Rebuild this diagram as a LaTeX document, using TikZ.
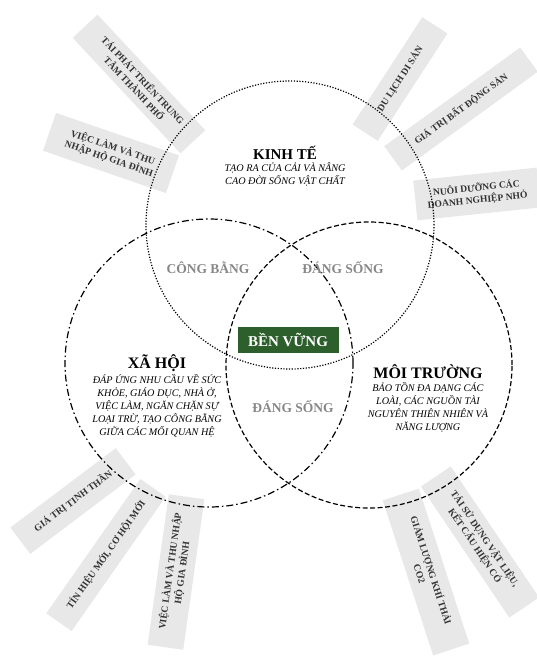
\documentclass[tikz,border=0pt]{standalone}
\usepackage{fontspec}
\setmainfont{Liberation Serif}
\usepackage{tikz}
\usetikzlibrary{positioning}
\definecolor{leaf}{RGB}{45,95,45}
\definecolor{tagfill}{RGB}{232,232,232}
\definecolor{zonegray}{RGB}{135,135,135}

\begin{document}
\begin{tikzpicture}[x=1pt, y=-1pt,
node distance = 1pt and 1pt,
     tag/.style = {fill=tagfill, text=black!80, align=center, inner sep=0pt,
                   font=\bfseries\fontsize{9.6}{12}\selectfont},
     ttl/.style = {font=\bfseries\fontsize{16}{18}\selectfont, inner sep=0pt},
    desc/.style = {font=\itshape\fontsize{10.2}{13}\selectfont, align=center, inner sep=0pt},
    zone/.style = {font=\bfseries\fontsize{13.5}{15}\selectfont, text=zonegray},
    ring/.style = {line width=1.2pt}
                    ]
\useasboundingbox (0,0) rectangle (537,657);

\coordinate (kt) at (290,225);
\coordinate (xh) at (209,363);
\coordinate (mt) at (369,365);

% the grey tags round the rings
\node (t1) [tag, rotate=-47, minimum width=158pt, minimum height=34pt] at (139,84) {TÁI PHÁT TRIỂN TRUNG\\TÂM THÀNH PHỐ};
\node (t2) [tag, rotate=-19, minimum width=130pt, minimum height=40pt] at (111,153) {VIỆC LÀM VÀ THU\\NHẬP HỘ GIA ĐÌNH};
\node (t3) [tag, rotate=57, minimum width=128pt, minimum height=30pt] at (400,79) {DU LỊCH DI SẢN};
\node (t4) [tag, rotate=36, minimum width=168pt, minimum height=30pt] at (461,109) {GIÁ TRỊ BẤT ĐỘNG SẢN};
\node (t5) [tag, rotate=6, minimum width=124pt, minimum height=40pt] at (477,194) {NUÔI DƯỠNG CÁC\\DOANH NGHIỆP NHỎ};
\node (t6) [tag, rotate=37, minimum width=132pt, minimum height=33pt] at (73,501) {GIÁ TRỊ TINH THẦN};
\node (t7) [tag, rotate=55, minimum width=164pt, minimum height=31pt] at (106,555) {TÍN HIỆU MỚI, CƠ HỘI MỚI};
\node (t8) [tag, rotate=82, minimum width=152pt, minimum height=36pt] at (176,572) {VIỆC LÀM VÀ THU NHẬP\\HỘ GIA ĐÌNH};
\node (t9) [tag, rotate=-72, minimum width=163pt, minimum height=38pt] at (426,572) {GIẢM LƯỢNG KHÍ THẢI\\CO2};
\node (t10) [tag, rotate=-56, minimum width=158pt, minimum height=36pt] at (480,542) {TÁI SỬ DỤNG VẬT LIỆU,\\KẾT CẤU HIỆN CÓ};

% the three rings
\draw[ring, dash pattern=on 1.2pt off 1.6pt] (kt) circle[radius=144pt];
\draw[ring, dash pattern=on 7pt off 3pt on 1.5pt off 3pt] (xh) circle[radius=144pt];
\draw[ring, dash pattern=on 5pt off 2.5pt] (mt) circle[radius=143pt];

% texts of the rings
\node (ktT) [ttl, font=\bfseries\fontsize{15}{17}\selectfont] at (285,153) {KINH TẾ};
\node (ktD) [desc, below=3pt of ktT] {TẠO RA CỦA CẢI VÀ NÂNG\\CAO ĐỜI SỐNG VẬT CHẤT};

\node (xhT) [ttl] at (157,363) {XÃ HỘI};
\node (xhD) [desc, below=3pt of xhT] {ĐÁP ỨNG NHU CẦU VỀ SỨC\\KHỎE, GIÁO DỤC, NHÀ Ở,\\VIỆC LÀM, NGĂN CHẶN SỰ\\LOẠI TRỪ, TẠO CÔNG BẰNG\\GIỮA CÁC MỐI QUAN HỆ};

\node (mtT) [ttl] at (428,372) {MÔI TRƯỜNG};
\node (mtD) [desc, below=3pt of mtT] {BẢO TỒN ĐA DẠNG CÁC\\LOÀI, CÁC NGUỒN TÀI\\NGUYÊN THIÊN NHIÊN VÀ\\NĂNG LƯỢNG};

% overlaps
\node (cb) [zone] at (208,268) {CÔNG BẰNG};
\node (ds1) [zone] at (343,268) {ĐÁNG SỐNG};
\node (ds2) [zone] at (293,407) {ĐÁNG SỐNG};
\node (bv) [fill=leaf, text=white, font=\bfseries\fontsize{15}{17}\selectfont,
            minimum width=101pt, minimum height=26pt, inner sep=0pt] at (288,340) {BỀN VỮNG};
\end{tikzpicture}
\end{document}
